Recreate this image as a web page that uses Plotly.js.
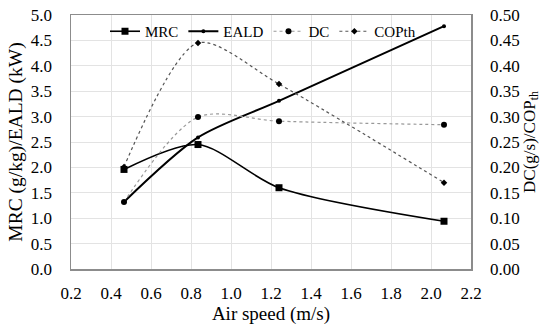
<!DOCTYPE html>
<html>
<head>
<meta charset="utf-8">
<script src="https://cdn.plot.ly/plotly-3.0.1.min.js"></script>
<style>html,body{margin:0;padding:0;background:#fff;}#chart{width:548px;height:329px;}</style>
</head>
<body>
<div id="chart"></div>
<script>
const airSpeed = [0.465, 0.835, 1.24, 2.065];
const mrc = [1.96, 2.45, 1.60, 0.94];
const eald = [1.32, 2.59, 3.31, 4.78];
const dc = [0.132, 0.299, 0.291, 0.284];
const copth = [0.201, 0.445, 0.364, 0.170];
const seriesNames = ['MRC', 'EALD', 'DC', 'COPth'];

const traces = [
  {x: airSpeed, y: mrc, name: seriesNames[0], mode: 'lines+markers', yaxis: 'y',
   line: {color: '#000', width: 1.6, shape: 'spline', smoothing: 0.8},
   marker: {symbol: 'square', size: 7, color: '#000'}},
  {x: airSpeed, y: eald, name: seriesNames[1], mode: 'lines+markers', yaxis: 'y',
   line: {color: '#000', width: 2, shape: 'spline', smoothing: 0.8},
   marker: {symbol: 'circle', size: 4, color: '#000'}},
  {x: airSpeed, y: dc, name: seriesNames[2], mode: 'lines+markers', yaxis: 'y2',
   line: {color: '#999', width: 1.2, dash: 'dot', shape: 'spline', smoothing: 0.85},
   marker: {symbol: 'circle', size: 6, color: '#000'}},
  {x: airSpeed, y: copth, name: seriesNames[3], mode: 'lines+markers', yaxis: 'y2',
   line: {color: '#555', width: 1.2, dash: 'dot', shape: 'spline', smoothing: 0.8},
   marker: {symbol: 'diamond', size: 5, color: '#000'}}
];

const fam = 'Liberation Serif';
const layout = {
  width: 548, height: 329,
  margin: {l: 71, r: 77, t: 15, b: 60},
  paper_bgcolor: '#fff', plot_bgcolor: '#fff',
  font: {family: fam, size: 17, color: '#000'},
  showlegend: true,
  legend: {orientation: 'h', x: 0.48, xanchor: 'center', y: 1.0, yanchor: 'top',
           bgcolor: 'rgba(255,255,255,0)', font: {family: fam, size: 15, color: '#000'},
           itemwidth: 30, tracegroupgap: 0},
  xaxis: {range: [0.2, 2.2], dtick: 0.2, tick0: 0.2, tickformat: '.1f',
          showgrid: true, gridcolor: '#e3e3e3', gridwidth: 1,
          showline: true, linecolor: '#8c8c8c', linewidth: 1.5, mirror: true,
          zeroline: false, ticks: '', ticklabelstandoff: 8,
          tickfont: {family: fam, size: 17},
          title: {text: 'Air speed (m/s)', font: {family: fam, size: 19}, standoff: 4}},
  yaxis: {range: [0, 5], dtick: 0.5, tickformat: '.1f',
          showgrid: true, gridcolor: '#e3e3e3', gridwidth: 1,
          showline: true, linecolor: '#8c8c8c', linewidth: 1.5, mirror: true,
          zeroline: false, ticks: '', ticklabelstandoff: 14,
          tickfont: {family: fam, size: 17},
          title: {text: 'MRC (g/kg)/EALD (kW)', font: {family: fam, size: 19.5}, standoff: 3}},
  yaxis2: {range: [0, 0.5], dtick: 0.05, tickformat: '.2f', overlaying: 'y', side: 'right',
           showgrid: false, showline: true, linecolor: '#8c8c8c', linewidth: 1.5,
           zeroline: false, ticks: '', ticklabelstandoff: 14,
           tickfont: {family: fam, size: 17},
           title: {text: 'DC(g/s)/COP<sub>th</sub>', font: {family: fam, size: 17}, standoff: 4}}
};

Plotly.newPlot('chart', traces, layout, {displayModeBar: false, staticPlot: true});
</script>
</body>
</html>
